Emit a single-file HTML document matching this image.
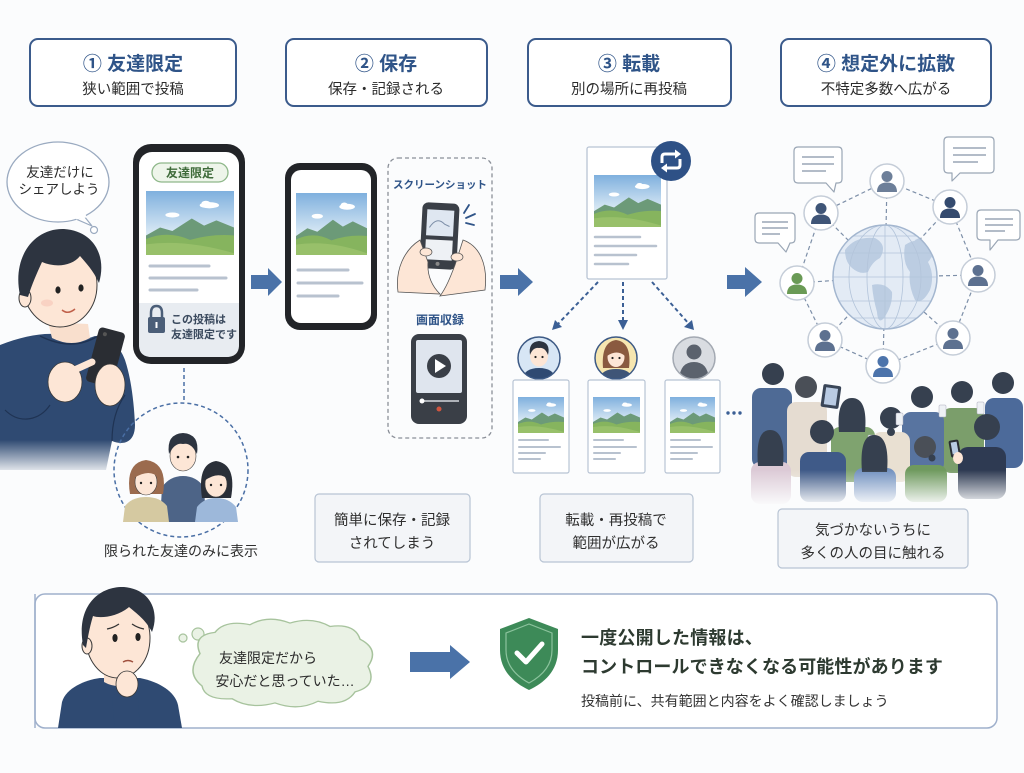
<!DOCTYPE html>
<html><head><meta charset="utf-8">
<style>
html,body{margin:0;padding:0;background:#fbfcfd;}
body{width:1024px;height:768px;overflow:hidden;}
svg text{font-family:"Liberation Sans","Noto Sans CJK JP",sans-serif;}
.ti{font-size:19px;font-weight:700;fill:#2f5488;text-anchor:middle;}
.st{font-size:14.5px;fill:#2b2b2b;text-anchor:middle;}
.cap{font-size:14.5px;fill:#2f2f2f;text-anchor:middle;}
</style></head>
<body>
<svg width="1024" height="768" viewBox="0 0 1024 768" xmlns="http://www.w3.org/2000/svg">
<defs>
  <linearGradient id="sky" x1="0" y1="0" x2="0" y2="1">
    <stop offset="0" stop-color="#7fb0de"/><stop offset="0.65" stop-color="#d8e8f4"/>
  </linearGradient>
  <symbol id="land" viewBox="0 0 100 72" preserveAspectRatio="none">
    <rect x="0" y="0" width="100" height="72" fill="url(#sky)"/>
    <ellipse cx="72" cy="16" rx="11" ry="3.5" fill="#fff"/>
    <ellipse cx="68" cy="14" rx="5" ry="3" fill="#fff"/>
    <ellipse cx="30" cy="27" rx="8" ry="2.8" fill="#fff"/>
    <path d="M0,50 L16,41 L30,45 L52,31 L66,39 L80,33 L100,41 L100,72 L0,72Z" fill="#6c9a78"/>
    <path d="M0,54 Q25,44 50,55 Q75,48 100,50 L100,72 L0,72Z" fill="#86b45e"/>
    <path d="M0,60 Q45,54 100,70 L100,72 L0,72Z" fill="#98c06a"/>
  </symbol>
  <symbol id="pp" viewBox="-17 -17 34 34">
    <circle cx="0" cy="-4.5" r="5.5" fill="currentColor"/>
    <path d="M-10,11 Q-10,1.5 0,1.5 Q10,1.5 10,11Z" fill="currentColor"/>
  </symbol>
  <linearGradient id="fade" x1="0" y1="0" x2="0" y2="1">
    <stop offset="0" stop-color="#fbfcfd" stop-opacity="0"/><stop offset="1" stop-color="#fbfcfd" stop-opacity="1"/>
  </linearGradient>
  <clipPath id="gclip"><circle cx="885" cy="277" r="52"/></clipPath>
  <clipPath id="a1"><circle cx="539" cy="358" r="21"/></clipPath>
  <clipPath id="a2"><circle cx="616" cy="358" r="21"/></clipPath>
  <clipPath id="a3"><circle cx="694" cy="358" r="21"/></clipPath>
</defs>

<!-- Header boxes -->
<rect x="30" y="39" width="206" height="67" rx="8" fill="#fff" stroke="#3b5b8c" stroke-width="2"/>
<text class="ti" x="133" y="70">① 友達限定</text>
<text class="st" x="133" y="94">狭い範囲で投稿</text>
<rect x="286" y="39" width="201" height="67" rx="8" fill="#fff" stroke="#3b5b8c" stroke-width="2"/>
<text class="ti" x="386" y="70">② 保存</text>
<text class="st" x="386" y="94">保存・記録される</text>
<rect x="528" y="39" width="203" height="67" rx="8" fill="#fff" stroke="#3b5b8c" stroke-width="2"/>
<text class="ti" x="629" y="70">③ 転載</text>
<text class="st" x="629" y="94">別の場所に再投稿</text>
<rect x="781" y="39" width="210" height="67" rx="8" fill="#fff" stroke="#3b5b8c" stroke-width="2"/>
<text class="ti" x="886" y="70">④ 想定外に拡散</text>
<text class="st" x="886" y="94">不特定多数へ広がる</text>

<!-- Speech bubble -->
<path d="M84,216 L92,226 L76,219Z" fill="#fff" stroke="#9aaac0" stroke-width="1.2"/>
<ellipse cx="58" cy="182" rx="51" ry="40" fill="#fff" stroke="#9aaac0" stroke-width="1.3"/>
<path d="M76,218 L86,216" stroke="#fff" stroke-width="3"/>
<circle cx="94" cy="230" r="3.5" fill="#fff" stroke="#9aaac0" stroke-width="1.2"/>
<text x="60" y="177" font-size="13.5" fill="#2b2b2b" text-anchor="middle">友達だけに</text>
<text x="59" y="194" font-size="13.5" fill="#2b2b2b" text-anchor="middle">シェアしよう</text>

<!-- Man top-left -->
<path d="M0,345 C20,337 40,333 55,334 Q75,344 95,336 C110,338 120,346 125,360 C131,378 134,402 135,425 C135,442 124,446 112,441 L106,470 L0,470Z" fill="#2f4a72"/>
<path d="M48,322 L88,324 L90,338 Q72,348 52,338Z" fill="#f9dfcd"/>
<path d="M40,336 Q72,352 98,336" fill="none" stroke="#1f3353" stroke-width="1.5"/>
<path d="M5,410 C20,425 40,420 50,405" fill="none" stroke="#1f3353" stroke-width="1.2"/>
<path d="M112,441 C112,420 118,405 125,395" fill="none" stroke="#1f3353" stroke-width="1.2"/>
<ellipse cx="60" cy="285" rx="37" ry="42" fill="#fde6d6" stroke="#3a3a3a" stroke-width="1"/>
<ellipse cx="25" cy="298" rx="6" ry="9" fill="#fde6d6" stroke="#3a3a3a" stroke-width="1"/>
<path d="M20,295 C12,258 33,228 64,229 C94,231 107,256 99,283 C93,270 86,263 80,256 C72,266 56,268 42,262 C37,273 32,284 28,297Z" fill="#2d3440"/>
<ellipse cx="58" cy="290" rx="2.6" ry="3.6" fill="#222"/>
<ellipse cx="81" cy="288" rx="2.6" ry="3.6" fill="#222"/>
<path d="M62,310 Q68,315 75,309" fill="none" stroke="#c0604a" stroke-width="1.5"/>
<ellipse cx="47" cy="303" rx="6" ry="3.5" fill="#f7c5b5" opacity="0.6"/>
<ellipse cx="65" cy="382" rx="17" ry="20" fill="#fde6d6" stroke="#3a3a3a" stroke-width="0.8"/>
<g transform="rotate(15 105 357)"><rect x="92" y="329" width="27" height="56" rx="4" fill="#2a2d33"/><circle cx="99" cy="335" r="2" fill="#555"/></g>
<ellipse cx="110" cy="385" rx="15" ry="21" fill="#fde6d6" stroke="#3a3a3a" stroke-width="0.8"/>
<path d="M70,372 L92,362" stroke="#fde6d6" stroke-width="7" stroke-linecap="round"/>
<rect x="0" y="440" width="140" height="35" fill="url(#fade)"/>

<!-- Phone 1 -->
<rect x="133" y="144" width="112" height="220" rx="18" fill="#222428"/>
<rect x="139" y="152" width="100" height="205" rx="13" fill="#fff"/>
<rect x="152" y="163" width="76" height="19" rx="9.5" fill="#eef5ea" stroke="#8fb88a" stroke-width="1.3"/>
<text x="190" y="177" font-size="12" font-weight="700" fill="#3f6b3a" text-anchor="middle">友達限定</text>
<use href="#land" x="146" y="191" width="88" height="64"/>
<line x1="150" y1="266" x2="209" y2="266" stroke="#b8c2cf" stroke-width="3" stroke-linecap="round"/>
<line x1="150" y1="278" x2="226" y2="278" stroke="#b8c2cf" stroke-width="3" stroke-linecap="round"/>
<line x1="150" y1="290" x2="197" y2="290" stroke="#b8c2cf" stroke-width="3" stroke-linecap="round"/>
<path d="M139,303 H239 V345 Q239,357 226,357 H152 Q139,357 139,345Z" fill="#e8ecf1"/>
<path d="M151,318 V313 Q151,306 156.5,306 Q162,306 162,313 V318" fill="none" stroke="#4b5e78" stroke-width="2.5"/>
<rect x="148" y="317" width="17" height="16" rx="2" fill="#4b5e78"/>
<rect x="155.5" y="322" width="2" height="6" fill="#fff"/>
<text x="171" y="323" font-size="11" font-weight="700" fill="#3b4a5e">この投稿は</text>
<text x="171" y="338" font-size="11" font-weight="700" fill="#3b4a5e">友達限定です</text>

<!-- dashed connector & friends -->
<line x1="184" y1="368" x2="184" y2="402" stroke="#4a6fa5" stroke-width="1.5" stroke-dasharray="4 3"/>
<circle cx="181" cy="470" r="67" fill="none" stroke="#4a6fa5" stroke-width="1.5" stroke-dasharray="4 3"/>
<path d="M160,522 L162,487 Q170,476 183,476 Q196,476 204,487 L206,522Z" fill="#4d6487"/>
<ellipse cx="183" cy="456" rx="13" ry="15" fill="#fde6d6" stroke="#444" stroke-width="0.6"/>
<path d="M169,454 Q166,434 183,433 Q200,434 197,454 Q191,442 183,444 Q175,442 169,454Z" fill="#2d3440"/>
<circle cx="178" cy="457" r="1.3" fill="#222"/><circle cx="188" cy="457" r="1.3" fill="#222"/>
<path d="M123,522 L125,506 Q132,497 146,497 Q160,497 167,506 L169,522Z" fill="#d5c9a1"/>
<path d="M130,494 Q125,463 146,460 Q168,463 163,494Z" fill="#9b6b4e"/>
<ellipse cx="146" cy="482" rx="11" ry="13" fill="#fde6d6" stroke="#444" stroke-width="0.6"/>
<path d="M134,478 Q137,462 147,462 Q159,463 159,478 Q150,468 134,478Z" fill="#9b6b4e"/>
<circle cx="141" cy="483" r="1.2" fill="#222"/><circle cx="151" cy="483" r="1.2" fill="#222"/>
<path d="M195,522 L197,507 Q204,498 216,498 Q229,498 236,507 L238,522Z" fill="#9db8da"/>
<path d="M202,498 Q197,464 216,461 Q237,464 231,498Z" fill="#2a2f38"/>
<ellipse cx="216" cy="484" rx="11" ry="13" fill="#fde6d6" stroke="#444" stroke-width="0.6"/>
<path d="M204,481 Q206,464 217,464 Q229,465 229,480 Q219,470 204,481Z" fill="#2a2f38"/>
<circle cx="211" cy="485" r="1.2" fill="#222"/><circle cx="221" cy="485" r="1.2" fill="#222"/>
<text x="181" y="556" font-size="14" fill="#2f2f2f" text-anchor="middle">限られた友達のみに表示</text>

<!-- Arrows -->
<path d="M251,275 H268 V268 L282,282 L268,296 V289 H251Z" fill="#4a72a8"/>
<path d="M500,275 H518 V268 L533,282 L518,296 V289 H500Z" fill="#4a72a8"/>
<path d="M727,275 H745 V267 L762,282 L745,297 V289 H727Z" fill="#4a72a8"/>

<!-- Phone 2 -->
<rect x="285" y="163" width="92" height="167" rx="15" fill="#222428"/>
<rect x="291" y="170" width="80" height="153" rx="10" fill="#fff"/>
<use href="#land" x="296" y="193" width="71" height="62"/>
<line x1="298" y1="270" x2="348" y2="270" stroke="#b8c2cf" stroke-width="3" stroke-linecap="round"/>
<line x1="298" y1="283" x2="362" y2="283" stroke="#b8c2cf" stroke-width="3" stroke-linecap="round"/>
<line x1="298" y1="296" x2="338" y2="296" stroke="#b8c2cf" stroke-width="3" stroke-linecap="round"/>

<!-- dashed capture box -->
<rect x="388" y="158" width="104" height="280" rx="10" fill="none" stroke="#8a8f98" stroke-width="1.3" stroke-dasharray="4 3"/>
<text x="440" y="188" font-size="10.5" font-weight="700" fill="#2f5488" text-anchor="middle">スクリーンショット</text>
<g transform="rotate(3 440 236)">
<rect x="421" y="203" width="37" height="66" rx="6" fill="#3a3f47"/>
<rect x="426" y="210" width="27" height="26" fill="#dfe7f1"/>
<path d="M429,228 Q436,216 444,224 L449,226" fill="none" stroke="#7d8fa8" stroke-width="1"/>
<rect x="426" y="240" width="27" height="20" fill="#eef1f5"/>
<circle cx="439" cy="264" r="2" fill="#888"/>
</g>
<path d="M398,292 C395,270 404,250 420,240 L428,262 C427,276 432,286 440,294Z" fill="#fde6d6" stroke="#555" stroke-width="0.8"/>
<path d="M485,290 C488,265 480,246 463,240 L455,265 C450,278 446,288 440,296Z" fill="#fde6d6" stroke="#555" stroke-width="0.8"/>
<ellipse cx="426" cy="252" rx="6" ry="4" fill="#fde6d6" stroke="#555" stroke-width="0.7"/>
<ellipse cx="457" cy="257" rx="6" ry="4" fill="#fde6d6" stroke="#555" stroke-width="0.7"/>
<path d="M464,213 L469,205 M466,218 L475,214 M466,223 L474,225" stroke="#2f5488" stroke-width="1.8" stroke-linecap="round"/>
<text x="440" y="324" font-size="12" font-weight="700" fill="#2f5488" text-anchor="middle">画面収録</text>
<rect x="411" y="334" width="56" height="90" rx="8" fill="#3a3f47"/>
<rect x="416" y="340" width="46" height="53" rx="2" fill="#dfe5ee"/>
<circle cx="439" cy="366" r="12" fill="#3a3f47"/>
<path d="M435,359 L446,366 L435,373Z" fill="#fff"/>
<line x1="421" y1="401" x2="459" y2="401" stroke="#d5d8dd" stroke-width="1.5"/>
<circle cx="422" cy="401" r="2.5" fill="#fff"/>
<circle cx="439" cy="409" r="2.5" fill="#d0553f"/>

<!-- caption 1 -->
<rect x="315" y="494" width="155" height="68" rx="4" fill="#f3f5f8" stroke="#b8c4d4" stroke-width="1.2"/>
<text class="cap" x="392" y="525">簡単に保存・記録</text>
<text class="cap" x="392" y="548">されてしまう</text>

<!-- Section 3 post -->
<rect x="587" y="147" width="80" height="132" rx="2" fill="#fff" stroke="#b8c4d4" stroke-width="1.3"/>
<use href="#land" x="594" y="175" width="67" height="52"/>
<line x1="595" y1="237" x2="640" y2="237" stroke="#b8c2cf" stroke-width="2.5" stroke-linecap="round"/>
<line x1="595" y1="246" x2="656" y2="246" stroke="#b8c2cf" stroke-width="2.5" stroke-linecap="round"/>
<line x1="595" y1="255" x2="636" y2="255" stroke="#b8c2cf" stroke-width="2.5" stroke-linecap="round"/>
<line x1="595" y1="264" x2="628" y2="264" stroke="#b8c2cf" stroke-width="2.5" stroke-linecap="round"/>
<circle cx="671" cy="161" r="20" fill="#2e5186"/>
<path d="M662,163 V157 Q662,154 665,154 H676" fill="none" stroke="#fff" stroke-width="3"/>
<path d="M675,149.5 L681,154 L675,158.5Z" fill="#fff"/>
<path d="M680,159 V165 Q680,168 677,168 H666" fill="none" stroke="#fff" stroke-width="3"/>
<path d="M667,163.5 L661,168 L667,172.5Z" fill="#fff"/>

<!-- dashed arrows -->
<g stroke="#3b5f95" stroke-width="2" stroke-dasharray="4 3" fill="none">
<line x1="598" y1="282" x2="557" y2="325"/>
<line x1="623" y1="282" x2="623" y2="322"/>
<line x1="652" y1="282" x2="689" y2="324"/>
</g>
<polygon points="552,330 562,327 555,320" fill="#3b5f95"/>
<polygon points="623,330 618,320 628,320" fill="#3b5f95"/>
<polygon points="694,330 692,320 684,327" fill="#3b5f95"/>

<!-- avatars -->
<circle cx="539" cy="358" r="21" fill="#d7e6f5"/>
<g clip-path="url(#a1)">
<path d="M522,380 Q524,368 539,368 Q554,368 556,380Z" fill="#2f4a72"/>
<ellipse cx="539" cy="356" rx="9" ry="10.5" fill="#fde6d6"/>
<path d="M530,355 Q528,342 539,341 Q551,342 548,355 Q545,347 539,348 Q533,347 530,355Z" fill="#2d3440"/>
<circle cx="535.5" cy="357" r="1.1" fill="#222"/><circle cx="542.5" cy="357" r="1.1" fill="#222"/>
</g>
<circle cx="539" cy="358" r="21" fill="none" stroke="#3d5a85" stroke-width="1.5"/>
<circle cx="616" cy="358" r="21" fill="#f6e6b0"/>
<g clip-path="url(#a2)">
<path d="M603,368 Q601,342 616,340 Q632,342 629,368Z" fill="#8a5a40"/>
<path d="M599,380 Q601,369 616,369 Q631,369 633,380Z" fill="#3f5577"/>
<ellipse cx="616" cy="357" rx="8.5" ry="10" fill="#fde6d6"/>
<path d="M607,356 Q608,344 617,344 Q626,345 625,356 Q617,349 607,356Z" fill="#8a5a40"/>
<circle cx="612.5" cy="358" r="1.1" fill="#222"/><circle cx="619.5" cy="358" r="1.1" fill="#222"/>
</g>
<circle cx="616" cy="358" r="21" fill="none" stroke="#3d5a85" stroke-width="1.5"/>
<circle cx="694" cy="358" r="21" fill="#d9dce1"/>
<g clip-path="url(#a3)">
<circle cx="694" cy="352" r="7.5" fill="#5b626d"/>
<path d="M679,380 Q680,362 694,362 Q708,362 709,380Z" fill="#5b626d"/>
</g>
<circle cx="694" cy="358" r="21" fill="none" stroke="#a3a9b2" stroke-width="1.5"/>

<!-- cards -->
<g fill="#fff" stroke="#b8c4d4" stroke-width="1.2">
<rect x="513" y="380" width="56" height="93" rx="2"/>
<rect x="588" y="380" width="57" height="93" rx="2"/>
<rect x="665" y="380" width="55" height="93" rx="2"/>
</g>
<use href="#land" x="518" y="397" width="46" height="36"/>
<use href="#land" x="593" y="397" width="47" height="36"/>
<use href="#land" x="670" y="397" width="45" height="36"/>
<g stroke="#b8c2cf" stroke-width="2" stroke-linecap="round">
<line x1="519" y1="440" x2="548" y2="440"/><line x1="519" y1="447" x2="560" y2="447"/><line x1="519" y1="453" x2="545" y2="453"/><line x1="519" y1="459" x2="540" y2="459"/>
<line x1="594" y1="440" x2="623" y2="440"/><line x1="594" y1="447" x2="636" y2="447"/><line x1="594" y1="453" x2="620" y2="453"/><line x1="594" y1="459" x2="615" y2="459"/>
<line x1="671" y1="440" x2="700" y2="440"/><line x1="671" y1="447" x2="712" y2="447"/><line x1="671" y1="453" x2="697" y2="453"/><line x1="671" y1="459" x2="692" y2="459"/>
</g>
<circle cx="728" cy="413" r="1.7" fill="#3b5f95"/><circle cx="734" cy="413" r="1.7" fill="#3b5f95"/><circle cx="740" cy="413" r="1.7" fill="#3b5f95"/>

<!-- caption 2 -->
<rect x="540" y="494" width="153" height="68" rx="4" fill="#f3f5f8" stroke="#b8c4d4" stroke-width="1.2"/>
<text class="cap" x="616" y="525">転載・再投稿で</text>
<text class="cap" x="616" y="548">範囲が広がる</text>

<!-- Section 4 network -->
<g stroke="#7d8fa8" stroke-width="1.2" stroke-dasharray="4 3" fill="none">
<polyline points="797,283 821,213 887,181 950,207 978,275 953,338 883,366 825,340 797,283"/>
<line x1="797" y1="283" x2="885" y2="277"/><line x1="821" y1="213" x2="885" y2="277"/>
<line x1="887" y1="181" x2="885" y2="277"/><line x1="950" y1="207" x2="885" y2="277"/>
<line x1="978" y1="275" x2="885" y2="277"/><line x1="953" y1="338" x2="885" y2="277"/>
<line x1="883" y1="366" x2="885" y2="277"/><line x1="825" y1="340" x2="885" y2="277"/>
</g>
<circle cx="885" cy="277" r="52" fill="#e3ebf5"/>
<g clip-path="url(#gclip)">
<path d="M845,250 Q855,236 875,238 Q888,245 880,258 Q872,262 868,272 Q860,275 852,268 Q845,262 845,250Z" fill="#bccde2"/>
<path d="M872,285 Q885,282 892,292 Q893,305 884,318 Q878,325 877,312 Q873,298 872,285Z" fill="#bccde2"/>
<path d="M905,245 Q918,236 930,245 Q935,255 928,262 Q935,275 930,290 Q922,305 915,300 Q908,285 910,272 Q902,262 905,245Z" fill="#bccde2"/>
<path d="M915,240 Q930,232 940,245 L940,262 Q928,255 920,252Z" fill="#bccde2"/>
<g fill="none" stroke="#b3c4da" stroke-width="0.8">
<ellipse cx="885" cy="277" rx="18" ry="52"/><ellipse cx="885" cy="277" rx="36" ry="52"/>
<line x1="885" y1="225" x2="885" y2="329"/>
<line x1="833" y1="277" x2="937" y2="277"/><line x1="835" y1="253" x2="935" y2="253"/><line x1="835" y1="301" x2="935" y2="301"/>
<line x1="845" y1="236" x2="925" y2="236"/><line x1="845" y1="318" x2="925" y2="318"/>
</g>
</g>
<circle cx="885" cy="277" r="52" fill="none" stroke="#a3b6cf" stroke-width="1.5"/>
<g fill="#fff" stroke="#c5cdd8" stroke-width="1.5">
<circle cx="797" cy="283" r="17"/><circle cx="821" cy="213" r="17"/><circle cx="887" cy="181" r="17"/><circle cx="950" cy="207" r="17"/>
<circle cx="978" cy="275" r="17"/><circle cx="953" cy="338" r="17"/><circle cx="883" cy="366" r="17"/><circle cx="825" cy="340" r="17"/>
</g>
<use href="#pp" x="780" y="266" width="34" height="34" style="color:#6a9a55"/>
<use href="#pp" x="804" y="196" width="34" height="34" style="color:#3f5577"/>
<use href="#pp" x="870" y="164" width="34" height="34" style="color:#6d7f99"/>
<use href="#pp" x="933" y="190" width="34" height="34" style="color:#344a6e"/>
<use href="#pp" x="961" y="258" width="34" height="34" style="color:#5d7190"/>
<use href="#pp" x="936" y="321" width="34" height="34" style="color:#5d7190"/>
<use href="#pp" x="866" y="349" width="34" height="34" style="color:#4d74ab"/>
<use href="#pp" x="808" y="323" width="34" height="34" style="color:#5d7190"/>

<!-- chat bubbles -->
<g fill="#fff" stroke="#9aa6b5" stroke-width="1.2" stroke-linejoin="round">
<path d="M798,147 H838 Q842,147 842,151 V179 Q842,183 838,183 H836 L834,192 L826,183 H798 Q794,183 794,179 V151 Q794,147 798,147Z"/>
<path d="M948,137 H990 Q994,137 994,141 V169 Q994,173 990,173 H960 L952,181 L952,173 H948 Q944,173 944,169 V141 Q944,137 948,137Z"/>
<path d="M759,213 H791 Q795,213 795,217 V239 Q795,243 791,243 H790 L786,252 L778,243 H759 Q755,243 755,239 V217 Q755,213 759,213Z"/>
<path d="M981,210 H1016 Q1020,210 1020,214 V236 Q1020,240 1016,240 H998 L990,250 L990,240 H981 Q977,240 977,236 V214 Q977,210 981,210Z"/>
</g>
<g stroke="#9aa6b5" stroke-width="1.6">
<line x1="802" y1="157" x2="834" y2="157"/><line x1="802" y1="164" x2="834" y2="164"/><line x1="802" y1="171" x2="826" y2="171"/>
<line x1="953" y1="148" x2="986" y2="148"/><line x1="953" y1="155" x2="986" y2="155"/><line x1="953" y1="162" x2="978" y2="162"/>
<line x1="762" y1="222" x2="788" y2="222"/><line x1="762" y1="228" x2="788" y2="228"/><line x1="762" y1="234" x2="780" y2="234"/>
<line x1="985" y1="219" x2="1013" y2="219"/><line x1="985" y1="225" x2="1013" y2="225"/><line x1="985" y1="231" x2="1005" y2="231"/>
</g>

<!-- crowd -->
<g>
<rect x="752" y="388" width="40" height="80" rx="9" fill="#4e6a95"/><circle cx="773" cy="374" r="11" fill="#36404f"/>
<rect x="985" y="398" width="38" height="70" rx="9" fill="#4c6a9a"/><circle cx="1003" cy="383" r="11" fill="#36404f"/>
<rect x="942" y="408" width="42" height="65" rx="9" fill="#7b9e6b"/><circle cx="962" cy="392" r="11" fill="#36404f"/>
<rect x="902" y="412" width="42" height="60" rx="9" fill="#5874a0"/><circle cx="922" cy="397" r="11" fill="#36404f"/>
<rect x="787" y="402" width="40" height="75" rx="9" fill="#e5dcd1"/><circle cx="806" cy="387" r="11" fill="#4a4f57"/>
<g transform="rotate(8 831 396)"><rect x="822" y="385" width="18" height="23" rx="2" fill="#3a4658"/><rect x="825" y="388" width="12" height="17" fill="#b9cbe3"/></g>
<rect x="872" y="432" width="38" height="50" rx="9" fill="#e9e0d2"/><circle cx="891" cy="418" r="11" fill="#36404f"/><circle cx="891" cy="432" r="4" fill="#36404f"/>
<rect x="831" y="427" width="44" height="55" rx="9" fill="#7fa36f"/><path d="M839,432 Q836,398 852,398 Q868,398 865,432Z" fill="#36404f"/>
<rect x="896" y="413" width="7" height="12" rx="1" fill="#eef1f5" stroke="#aab" stroke-width="0.5"/>
<rect x="977" y="402" width="7" height="12" rx="1" fill="#eef1f5" stroke="#aab" stroke-width="0.5"/>
<rect x="939" y="405" width="7" height="12" rx="1" fill="#eef1f5" stroke="#aab" stroke-width="0.5"/>
<rect x="868" y="435" width="7" height="12" rx="1" fill="#eef1f5" stroke="#aab" stroke-width="0.5"/>
<rect x="751" y="462" width="40" height="42" rx="9" fill="#dccad6"/><path d="M758,466 Q755,430 770,430 Q786,430 783,466Z" fill="#36404f"/>
<rect x="800" y="452" width="46" height="50" rx="9" fill="#3f5a88"/><circle cx="822" cy="432" r="12" fill="#36404f"/>
<rect x="854" y="468" width="42" height="34" rx="9" fill="#7392c0"/><path d="M862,472 Q859,435 874,435 Q890,435 887,472Z" fill="#36404f"/>
<rect x="905" y="465" width="42" height="37" rx="9" fill="#6f9a5e"/><circle cx="925" cy="447" r="11" fill="#4a4f57"/><circle cx="932" cy="458" r="3.5" fill="#36404f"/>
<rect x="958" y="447" width="48" height="52" rx="10" fill="#2e3a52"/><circle cx="987" cy="427" r="13" fill="#36404f"/>
<g transform="rotate(-10 955 450)"><rect x="950" y="440" width="10" height="17" rx="2" fill="#2a2d33"/><rect x="952" y="442" width="6" height="12" fill="#b9cbe3"/></g>
<ellipse cx="958" cy="458" rx="5" ry="6" fill="#fde6d6"/>
<rect x="745" y="470" width="280" height="36" fill="url(#fade)"/>
</g>

<!-- caption 3 -->
<rect x="778" y="509" width="190" height="59" rx="4" fill="#f3f5f8" stroke="#b8c4d4" stroke-width="1.2"/>
<text class="cap" x="873" y="535">気づかないうちに</text>
<text class="cap" x="873" y="558">多くの人の目に触れる</text>

<!-- Bottom panel -->
<rect x="35" y="594" width="962" height="134" rx="10" fill="#fff" stroke="#9fb0cc" stroke-width="1.5"/>
<path d="M58,728 L62,702 C66,688 85,680 100,678 L140,678 C160,682 175,692 178,705 L182,728Z" fill="#2f4a72"/>
<path d="M104,664 L132,664 L134,682 Q118,690 104,682Z" fill="#f9dfcd"/>
<ellipse cx="118" cy="638" rx="32" ry="40" fill="#fde6d6" stroke="#3a3a3a" stroke-width="1"/>
<ellipse cx="87" cy="646" rx="5" ry="8" fill="#fde6d6" stroke="#3a3a3a" stroke-width="1"/>
<path d="M83,645 C76,606 99,586 124,587 C150,589 160,611 152,632 C146,620 136,613 129,607 C119,616 101,619 93,616 C90,626 88,636 86,648Z" fill="#2d3440"/>
<path d="M107,629 Q113,628 119,624 M132,624 Q138,628 144,629" fill="none" stroke="#333" stroke-width="1.3"/>
<ellipse cx="115" cy="638" rx="2.6" ry="4" fill="#222"/>
<ellipse cx="138" cy="637" rx="2.6" ry="4" fill="#222"/>
<path d="M123,662 Q128,659 133,662" fill="none" stroke="#a0503e" stroke-width="1.4"/>
<path d="M115,728 L112,700 Q115,690 125,690 L138,700 L140,728Z" fill="#2f4a72"/>
<ellipse cx="127" cy="684" rx="11" ry="13" fill="#fde6d6" stroke="#3a3a3a" stroke-width="0.8"/>
<line x1="35" y1="594" x2="35" y2="728" stroke="#9fb0cc" stroke-width="1.5"/>

<!-- thought cloud -->
<circle cx="183" cy="638" r="4" fill="#eaf2e5" stroke="#a7c39d" stroke-width="1.2"/>
<circle cx="198" cy="634" r="6" fill="#eaf2e5" stroke="#a7c39d" stroke-width="1.2"/>
<path transform="translate(282,663) scale(1,0.85) translate(-282,-661)" d="M200,650 Q192,628 215,625 Q225,610 250,616 Q268,604 290,614 Q312,606 330,618 Q355,614 360,633 Q380,645 368,665 Q378,688 355,695 Q345,713 318,706 Q298,718 275,708 Q250,716 232,703 Q205,705 202,688 Q185,672 200,650Z" fill="#eaf2e5" stroke="#a7c39d" stroke-width="1.5"/>
<text x="268" y="663" font-size="14" fill="#2b2b2b" text-anchor="middle">友達限定だから</text>
<text x="285" y="686" font-size="14" fill="#2b2b2b" text-anchor="middle">安心だと思っていた…</text>

<path d="M410,652 H450 V645 L470,662 L450,679 V672 H410Z" fill="#4a72a8"/>

<!-- shield -->
<path d="M529,618 L500,629 L500,650 C500,671 514,683 529,690 C544,683 558,671 558,650 L558,629Z" fill="#3d8a58"/>
<path d="M529,624 L506,633 L506,650 C506,667 518,677 529,683 C540,677 552,667 552,650 L552,633Z" fill="none" stroke="#8cc39d" stroke-width="1.2"/>
<path d="M517,653 L526,662 L542,644" fill="none" stroke="#fff" stroke-width="5" stroke-linecap="round" stroke-linejoin="round"/>

<text x="581" y="644" font-size="18" font-weight="700" fill="#2d3a30" letter-spacing="0.2">一度公開した情報は、</text>
<text x="581" y="673" font-size="18" font-weight="700" fill="#2d3a30" letter-spacing="0.1">コントロールできなくなる可能性があります</text>
<text x="581" y="706" font-size="14" fill="#333">投稿前に、共有範囲と内容をよく確認しましょう</text>
</svg>
</body></html>
